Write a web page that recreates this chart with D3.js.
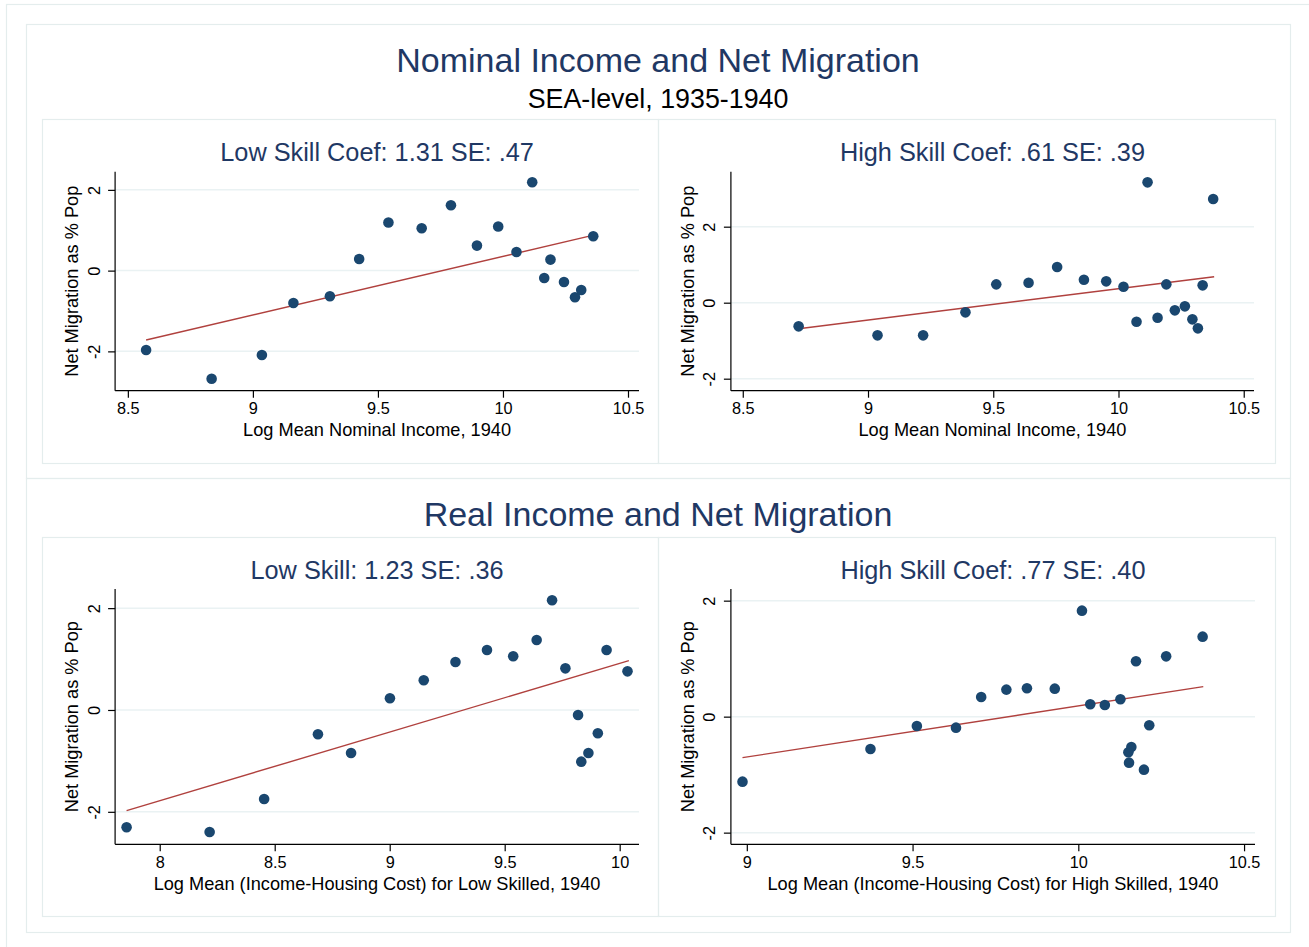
<!DOCTYPE html>
<html><head><meta charset="utf-8">
<script src="https://cdn.jsdelivr.net/npm/d3@7"></script>
<style>
body{margin:0;background:#fff;}
text{font-family:"Liberation Sans",Arial,Helvetica,sans-serif;}
</style>
</head><body>
<svg id="chart" width="1309" height="947"></svg>
<script>
// ---------------- DATA ----------------
const mainTitleTop = "Nominal Income and Net Migration";
const subTitleTop = "SEA-level, 1935-1940";
const mainTitleBottom = "Real Income and Net Migration";
const yAxisTitle = "Net Migration as % Pop";

const panelTitles = ["Low Skill Coef: 1.31 SE: .47", "High Skill Coef: .61 SE: .39",
                     "Low Skill: 1.23 SE: .36", "High Skill Coef: .77 SE: .40"];
const xAxisTitles = ["Log Mean Nominal Income, 1940", "Log Mean Nominal Income, 1940",
                     "Log Mean (Income-Housing Cost) for Low Skilled, 1940",
                     "Log Mean (Income-Housing Cost) for High Skilled, 1940"];

// Nominal, low skill
const nomLowX = [8.573,8.835,9.036,9.162,9.308,9.425,9.542,9.675,9.792,9.896,9.981,10.054,10.117,10.165,10.190,10.244,10.288,10.313,10.361];
const nomLowY = [-1.967,-2.678,-2.091,-0.802,-0.636,0.289,1.190,1.050,1.620,0.620,1.091,0.463,2.190,-0.182,0.273,-0.281,-0.661,-0.479,0.851];
const nomLowFitX = [8.573,10.367];
const nomLowFitY = [-1.719,0.884];

// Nominal, high skill
const nomHighX = [8.723,9.038,9.220,9.389,9.512,9.641,9.755,9.862,9.951,10.020,10.072,10.116,10.156,10.191,10.225,10.265,10.295,10.317,10.336,10.378];
const nomHighY = [-0.623,-0.860,-0.860,-0.254,0.482,0.526,0.939,0.605,0.561,0.421,-0.500,3.167,-0.395,0.482,-0.202,-0.096,-0.439,-0.675,0.456,2.728];
const nomHighFitX = [8.723,10.382];
const nomHighFitY = [-0.684,0.684];

// Real, low skill
const realLowX = [7.856,8.217,8.454,8.688,8.832,9.001,9.148,9.286,9.423,9.537,9.639,9.706,9.764,9.819,9.833,9.864,9.905,9.943,10.034];
const realLowY = [-2.304,-2.396,-1.748,-0.478,-0.845,0.229,0.583,0.943,1.178,1.054,1.375,2.154,0.818,-0.098,-1.015,-0.845,-0.458,1.178,0.759];
const realLowFitX = [7.856,10.040];
const realLowFitY = [-1.977,0.969];

// Real, high skill
const realHighX = [8.987,9.373,9.513,9.631,9.707,9.783,9.845,9.929,10.011,10.036,10.080,10.127,10.151,10.160,10.153,10.174,10.198,10.214,10.265,10.375];
const realHighY = [-1.121,-0.557,-0.161,-0.190,0.339,0.466,0.489,0.483,1.828,0.213,0.201,0.299,-0.615,-0.523,-0.793,0.954,-0.914,-0.149,1.040,1.379];
const realHighFitX = [8.987,10.377];
const realHighFitY = [-0.707,0.517];

// Ticks
const xTicksNomLow = [8.5, 9, 9.5, 10, 10.5];
const xTicksNomHigh = [8.5, 9, 9.5, 10, 10.5];
const xTicksRealLow = [8, 8.5, 9, 9.5, 10];
const xTicksRealHigh = [9, 9.5, 10, 10.5];
const yTicks = [-2, 0, 2];

// Axis domains
const xDomNomLow = [8.449, 10.544], yDomNomLow = [-2.974, 2.45];
const xDomNomHigh = [8.4526, 10.541], yDomNomHigh = [-2.316, 3.447];
const xDomRealLow = [7.806, 10.084], yDomRealLow = [-2.638, 2.376];
const xDomRealHigh = [8.952, 10.533], yDomRealHigh = [-2.201, 2.201];

// ---------------- STYLE / LAYOUT ----------------
const navy = "#1f3864";
const markerColor = "#1a476f";
const fitColor = "#b0413e";
const gridColor = "#eaf2f3";
const frameColor = "#e4eded";

const svg = d3.select("#chart");
svg.append("rect").attr("width",1309).attr("height",947).attr("fill","#fff");

// frames
const frames = [
  [6,4,1340,960],
  [26,24,1264,454],
  [26,478,1264,454],
  [42,119,616,344],[658,119,617,344],
  [42,537,616,379],[658,537,617,379]
];
svg.selectAll("rect.frame").data(frames).enter().append("rect")
  .attr("class","frame")
  .attr("x",d=>d[0]+0.5).attr("y",d=>d[1]+0.5).attr("width",d=>d[2]).attr("height",d=>d[3])
  .attr("fill","none").attr("stroke",frameColor).attr("stroke-width",1.2);

// main titles
svg.append("text").attr("x",658).attr("y",72).attr("text-anchor","middle")
  .attr("font-size",34).attr("fill",navy).text(mainTitleTop);
svg.append("text").attr("x",658).attr("y",107.5).attr("text-anchor","middle")
  .attr("font-size",26.8).attr("fill","#000").text(subTitleTop);
svg.append("text").attr("x",658).attr("y",526).attr("text-anchor","middle")
  .attr("font-size",34).attr("fill",navy).text(mainTitleBottom);

const panels = [
  {X:nomLowX,Y:nomLowY,fx:nomLowFitX,fy:nomLowFitY,xt:xTicksNomLow,xd:xDomNomLow,yd:yDomNomLow,
   title:panelTitles[0],xtitle:xAxisTitles[0],L:115.1,R:639,T:171.7,B:390.7,titleY:161},
  {X:nomHighX,Y:nomHighY,fx:nomHighFitX,fy:nomHighFitY,xt:xTicksNomHigh,xd:xDomNomHigh,yd:yDomNomHigh,
   title:panelTitles[1],xtitle:xAxisTitles[1],L:730.9,R:1254,T:171.7,B:390.7,titleY:161},
  {X:realLowX,Y:realLowY,fx:realLowFitX,fy:realLowFitY,xt:xTicksRealLow,xd:xDomRealLow,yd:yDomRealLow,
   title:panelTitles[2],xtitle:xAxisTitles[2],L:115.1,R:639,T:589,B:844.3,titleY:579},
  {X:realHighX,Y:realHighY,fx:realHighFitX,fy:realHighFitY,xt:xTicksRealHigh,xd:xDomRealHigh,yd:yDomRealHigh,
   title:panelTitles[3],xtitle:xAxisTitles[3],L:730.9,R:1255,T:589,B:844.3,titleY:579}
];

panels.forEach(p => {
  const x = d3.scaleLinear().domain(p.xd).range([p.L, p.R]);
  const y = d3.scaleLinear().domain(p.yd).range([p.B, p.T]);
  const g = svg.append("g");
  const cx = (p.L + p.R) / 2, cy = (p.T + p.B) / 2;

  // gridlines
  g.selectAll("line.grid").data(yTicks).enter().append("line")
    .attr("x1",p.L).attr("x2",p.R).attr("y1",d=>y(d)).attr("y2",d=>y(d))
    .attr("stroke",gridColor).attr("stroke-width",1.5);

  // x axis
  const xAxis = d3.axisBottom(x).tickValues(p.xt).tickSize(7).tickPadding(5).tickFormat(d=>String(d));
  const gx = g.append("g").attr("transform",`translate(0,${p.B})`).call(xAxis);
  gx.select(".domain").attr("d",`M${p.L},0H${p.R}`).attr("stroke","#000").attr("stroke-width",1.2);
  gx.selectAll(".tick line").attr("stroke","#000").attr("stroke-width",1.2);
  gx.selectAll(".tick text").attr("font-size",16.3).attr("fill","#000")
    .attr("font-family","'Liberation Sans',Arial,sans-serif").attr("dy","0.71em");

  // y axis
  const yAxis = d3.axisLeft(y).tickValues(yTicks).tickSize(7).tickFormat(d=>String(d));
  const gy = g.append("g").attr("transform",`translate(${p.L},0)`).call(yAxis);
  gy.select(".domain").attr("d",`M0,${p.T}V${p.B}`).attr("stroke","#000").attr("stroke-width",1.2);
  gy.selectAll(".tick line").attr("stroke","#000").attr("stroke-width",1.2);
  gy.selectAll(".tick text")
    .attr("x",null).attr("dy",null)
    .attr("text-anchor","middle").attr("font-size",16.3).attr("fill","#000")
    .attr("font-family","'Liberation Sans',Arial,sans-serif")
    .attr("transform","translate(-15.5,0) rotate(-90)");

  // axis titles
  g.append("text").attr("x",cx).attr("y",p.B + 45.5).attr("text-anchor","middle")
    .attr("font-size",18.2).attr("fill","#000").text(p.xtitle);
  g.append("text").attr("transform",`translate(${p.L - 37},${cy}) rotate(-90)`)
    .attr("text-anchor","middle").attr("font-size",18.2).attr("fill","#000").text(yAxisTitle);

  // panel title
  g.append("text").attr("x",cx).attr("y",p.titleY).attr("text-anchor","middle")
    .attr("font-size",25.3).attr("fill",navy).text(p.title);

  // fit line
  const fitData = p.fx.map((v,i)=>[v,p.fy[i]]);
  g.append("path").datum(fitData)
    .attr("d", d3.line().x(d=>x(d[0])).y(d=>y(d[1])))
    .attr("fill","none").attr("stroke",fitColor).attr("stroke-width",1.4);

  // points
  const pts = p.X.map((v,i)=>[v,p.Y[i]]);
  g.selectAll("circle").data(pts).enter().append("circle")
    .attr("cx",d=>x(d[0])).attr("cy",d=>y(d[1])).attr("r",5.3)
    .attr("fill",markerColor);
});
</script>
</body></html>
